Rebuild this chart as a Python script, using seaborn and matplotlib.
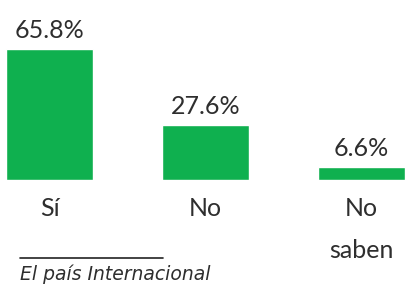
"""
Encuesta: respuestas Sí / No / No saben
Bar chart recreated with seaborn.
"""

import matplotlib
matplotlib.use("Agg")
import matplotlib.pyplot as plt
import seaborn as sns
import pandas as pd

# data
categories = ["Sí", "No", "No\nsaben"]
values = [65.8, 27.6, 6.6]
value_labels = ["65.8%", "27.6%", "6.6%"]
source = "El país Internacional"

BAR_COLOR = "#0FB04F"
TEXT_COLOR = "#2E2E2E"

sns.set_theme(style="white")
plt.rcParams["font.family"] = ["Lato", "DejaVu Sans"]

df = pd.DataFrame({"respuesta": categories, "pct": values})

fig = plt.figure(figsize=(4.09, 2.88), dpi=100)
ax = fig.add_axes([6 / 409, 108 / 288, 399 / 409, 131 / 288])

sns.barplot(data=df, x="respuesta", y="pct", color=BAR_COLOR,
            saturation=1, width=0.56, ax=ax)

ax.set_xlim(-0.28, 2.28)
ax.set_ylim(0, 65.8)

# value labels above the bars
ax.bar_label(ax.containers[0], labels=value_labels, padding=5,
             fontsize=18, color=TEXT_COLOR)

# axis cleanup
sns.despine(ax=ax, left=True, bottom=True)
ax.set_yticks([])
ax.set_xlabel("")
ax.set_ylabel("")
ax.tick_params(axis="x", length=0, pad=12, labelsize=18, labelcolor=TEXT_COLOR)
for lbl in ax.get_xticklabels():
    lbl.set_linespacing(2.0)
    lbl.set_verticalalignment("top")

# source note with rule above it
fig.add_artist(plt.Line2D([20 / 409, 163 / 409], [30 / 288, 30 / 288],
                          color="#222222", lw=1.2))
fig.text(20 / 409, 14 / 288, source, fontsize=13.5, style="italic",
         family=["DejaVu Sans"], color=TEXT_COLOR, ha="left", va="center")

fig.savefig("out.png", dpi=100)
